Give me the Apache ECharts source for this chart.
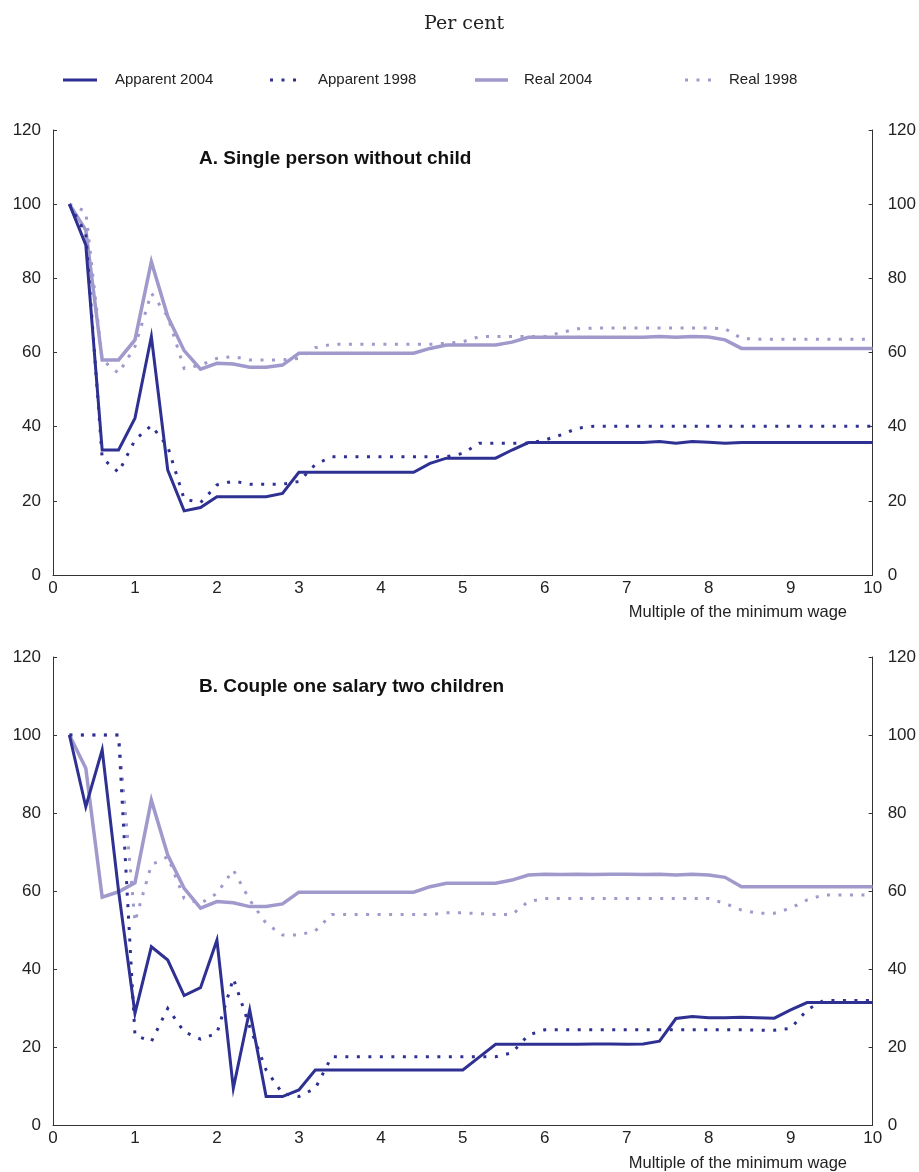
<!DOCTYPE html>
<html>
<head>
<meta charset="utf-8">
<script src="https://cdn.jsdelivr.net/npm/echarts@6/dist/echarts.min.js"></script>
<style>
html,body{margin:0;padding:0;background:#fff;}
#main{width:919px;height:1172px;}
</style>
</head>
<body>
<div id="main"></div>
<script>
// Multiples of the minimum wage
const xValues = [0.2,0.4,0.6,0.8,1.0,1.2,1.4,1.6,1.8,2.0,
  2.2,2.4,2.6,2.8,3.0,3.2,3.4,3.6,3.8,4.0,
  4.2,4.4,4.6,4.8,5.0,5.2,5.4,5.6,5.8,6.0,
  6.2,6.4,6.6,6.8,7.0,7.2,7.4,7.6,7.8,8.0,
  8.2,8.4,8.6,8.8,9.0,9.2,9.4,9.6,9.8,10.0];

// Panel A: Single person without child
const aApparent2004 = [100,89,33.7,33.7,42.3,64.3,28.3,17.3,18.2,21.1,
  21.1,21.1,21.1,22,27.7,27.7,27.7,27.7,27.7,27.7,
  27.7,27.7,30.1,31.5,31.5,31.5,31.5,33.7,35.7,35.7,
  35.7,35.7,35.7,35.7,35.7,35.7,36,35.5,36,35.8,
  35.5,35.7,35.7,35.7,35.7,35.7,35.7,35.7,35.7,35.7];
const aApparent1998 = [100,92,31.5,27.7,36.4,40.3,34.6,20.5,19.5,24.3,
  25.3,24.5,24.5,24.5,25.2,29.8,31.9,31.9,31.9,31.9,
  31.9,31.9,31.9,31.9,32.8,35.5,35.5,35.5,35.5,36.4,
  37.8,39.6,40.1,40.1,40.1,40.1,40.1,40.1,40.1,40.1,
  40.1,40.1,40.1,40.1,40.1,40.1,40.1,40.1,40.1,40.1];
const aReal2004 = [100,93,58,58,63.4,84.5,69.7,60.5,55.5,57.1,
  56.9,56,56,56.6,59.8,59.8,59.8,59.8,59.8,59.8,
  59.8,59.8,61.1,62,62,62,62,62.8,64.1,64.1,
  64.1,64.1,64.1,64.1,64.1,64.1,64.3,64.1,64.3,64.2,
  63.4,61.1,61.1,61.1,61.1,61.1,61.1,61.1,61.1,61.1];
const aReal1998 = [100,98,58,54.4,61.6,76,69.7,55.7,56.6,58.4,
  58.9,58,58,58,58.4,61.3,62.2,62.2,62.2,62.2,
  62.2,62.2,62.2,62.5,62.9,64.3,64.3,64.3,64.3,64.3,
  65.4,66.4,66.6,66.6,66.6,66.6,66.6,66.6,66.6,66.6,
  66.4,63.8,63.6,63.6,63.6,63.6,63.6,63.6,63.6,63.6];

// Panel B: Couple one salary two children
const bApparent2004 = [100,81.6,96.2,60,28.6,45.7,42.3,33.2,35.2,47.4,
  9.4,29.5,7.3,7.3,9,14.1,14.1,14.1,14.1,14.1,
  14.1,14.1,14.1,14.1,14.1,17.4,20.7,20.7,20.7,20.7,
  20.7,20.7,20.8,20.8,20.7,20.8,21.5,27.3,27.8,27.5,
  27.5,27.6,27.5,27.4,29.5,31.4,31.4,31.4,31.4,31.4];
const bApparent1998 = [100,100,100,100,23,21.4,29.9,23.9,22,23.5,
  37.6,25.2,14.1,8.1,7.3,9.4,17.5,17.5,17.5,17.5,
  17.5,17.5,17.5,17.5,17.5,17.5,17.5,18.5,23.1,24.4,
  24.4,24.4,24.4,24.4,24.4,24.4,24.4,24.4,24.4,24.4,
  24.4,24.4,24.3,24.3,24.8,29.5,31.9,31.9,31.9,31.9];
const bReal2004 = [100,91.5,58.4,59.8,62.1,83.3,69.2,60.7,55.6,57.3,
  57,56,56,56.7,59.7,59.7,59.7,59.7,59.7,59.7,
  59.7,59.7,61.1,62,62,62,62,62.8,64.1,64.3,
  64.2,64.3,64.2,64.3,64.3,64.2,64.3,64.1,64.3,64.1,
  63.5,61.1,61.1,61.1,61.1,61.1,61.1,61.1,61.1,61.1];
const bReal1998 = [100,100,100,100,52.1,66.7,68.8,58.1,56.8,59.4,
  65.4,57.7,51.7,48.7,48.7,49.8,54,54,54,54,
  54,54,54,54.4,54.4,54.2,54,54,57.3,58.1,
  58.1,58.1,58.1,58.1,58.1,58.1,58.1,58.1,58.1,58.1,
  56.8,55.1,54.3,54.3,55.6,57.7,59,59,59,59];

const seriesNames = ['Apparent 2004','Apparent 1998','Real 2004','Real 1998'];
const xTicks = [0,1,2,3,4,5,6,7,8,9,10];
const yTicks = [0,20,40,60,80,100,120];
const panelTitles = ['A. Single person without child','B. Couple one salary two children'];
const xAxisTitle = 'Multiple of the minimum wage';
const unitLabel = 'Per cent';

const DARK = '#2e3192';
const LIGHT = '#9f99cc';
const AXIS = '#333';
const FONT = 'Liberation Sans, Arial, Helvetica, sans-serif';

function pairs(ys){ return xValues.map((x,i)=>[x, ys[i]]); }

const grids = [
  {left:53, right:46, top:130, height:445},
  {left:53, right:46, top:657, height:468}
];

const xAxes = grids.map((g,i)=>({
  type:'value', gridIndex:i, min:0, max:10, interval:1,
  axisLine:{show:true, lineStyle:{color:AXIS, width:1}},
  axisTick:{show:false},
  splitLine:{show:false},
  axisLabel:{color:'#222', fontSize:17, fontFamily:FONT, margin:5}
}));

const yAxes = [];
grids.forEach((g,i)=>{
  ['left','right'].forEach(pos=>{
    yAxes.push({
      type:'value', gridIndex:i, position:pos, min:0, max:120, interval:20,
      axisLine:{show:true, lineStyle:{color:AXIS, width:1}},
      axisTick:{show:true, inside:true, length:4, lineStyle:{color:AXIS}},
      splitLine:{show:false},
      axisLabel:{color:'#222', fontSize:17, fontFamily:FONT, margin: pos==='left'?12:15}
    });
  });
});

const panels = [
  [aApparent2004, aApparent1998, aReal2004, aReal1998],
  [bApparent2004, bApparent1998, bReal2004, bReal1998]
];
const styles = [
  {color:DARK, width:3, type:'solid'},
  {color:DARK, width:3, type:[3,8.5]},
  {color:LIGHT, width:3.5, type:'solid'},
  {color:LIGHT, width:3, type:[3,8.5]}
];
const drawOrder = [2,3,1,0];

const series = [];
panels.forEach((data,p)=>{
  drawOrder.forEach((k,j)=>{
    series.push({
      type:'line', name:seriesNames[k], xAxisIndex:p, yAxisIndex:p*2,
      data:pairs(data[k]), showSymbol:false, symbol:'none', animation:false,
      lineStyle:{color:styles[k].color, width:styles[k].width, type:styles[k].type, cap:'butt', join:'miter'},
      z: 2 + j
    });
  });
});

// legend drawn as graphic
const legendItems = [
  {x1:63, x2:97, tx:115},
  {x1:270, x2:300, tx:318},
  {x1:475, x2:508, tx:524},
  {x1:685, x2:713, tx:729}
];
const graphics = [];
legendItems.forEach((it,k)=>{
  graphics.push({type:'line', shape:{x1:it.x1, y1:80, x2:it.x2, y2:80},
    style:{stroke:styles[k].color, lineWidth:styles[k].width, lineDash: styles[k].type==='solid'?null:[3,8.5], lineCap:'butt'}});
  graphics.push({type:'text', x:it.tx, y:80, style:{text:seriesNames[k], fill:'#222', font:'15px '+FONT, verticalAlign:'middle'}});
});
graphics.push({type:'text', x:464, y:24, style:{text:unitLabel, fill:'#222', font:'19px DejaVu Serif, serif', align:'center', verticalAlign:'middle'}});
graphics.push({type:'text', x:199, y:159, style:{text:panelTitles[0], fill:'#111', font:'bold 19px '+FONT, verticalAlign:'middle'}});
graphics.push({type:'text', x:199, y:687, style:{text:panelTitles[1], fill:'#111', font:'bold 19px '+FONT, verticalAlign:'middle'}});
graphics.push({type:'text', x:847, y:612, style:{text:xAxisTitle, fill:'#222', font:'16.5px '+FONT, align:'right', verticalAlign:'middle'}});
graphics.push({type:'text', x:847, y:1163, style:{text:xAxisTitle, fill:'#222', font:'16.5px '+FONT, align:'right', verticalAlign:'middle'}});

const chart = echarts.init(document.getElementById('main'), null, {renderer:'canvas'});
chart.setOption({
  backgroundColor:'#fff',
  animation:false,
  grid:grids,
  xAxis:xAxes,
  yAxis:yAxes,
  series:series,
  graphic:graphics
});
</script>
</body>
</html>
